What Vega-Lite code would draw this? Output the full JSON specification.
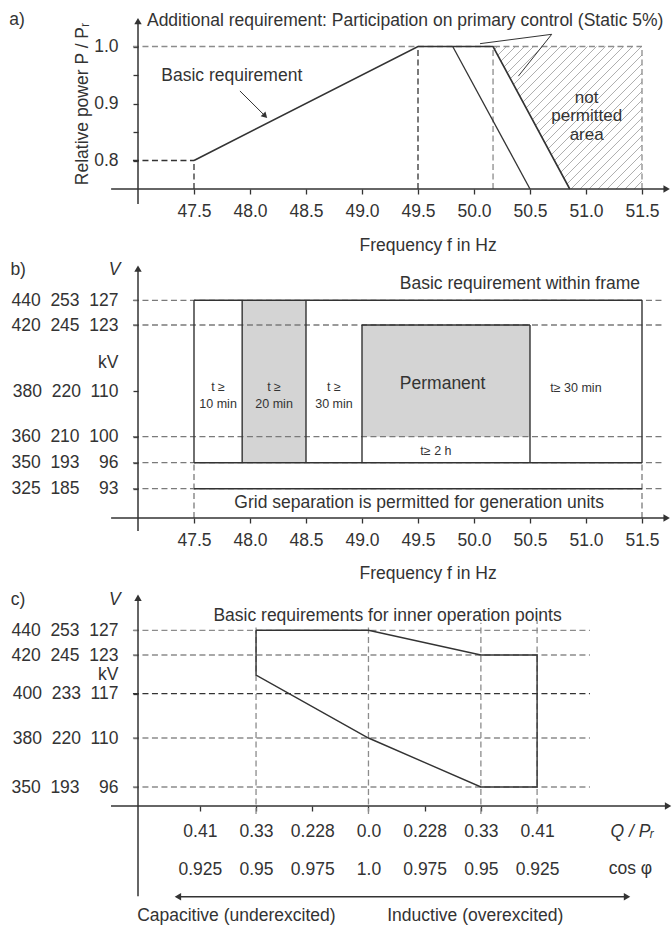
{
  "$schema": "https://vega.github.io/schema/vega-lite/v6.json",
  "background": "white",
  "padding": {"left": 9, "top": 11, "right": 0, "bottom": 0},
  "bounds": "flush",
  "spacing": 74,
  "config": {
    "font": "Liberation Sans",
    "view": {"stroke": null},
    "axis": {"domain": false, "grid": false, "tickColor": "#333333", "tickSize": 5, "tickWidth": 1.3, "labelColor": "#333333", "labelFontSize": 17.5, "labelFont": "Liberation Sans", "labelOverlap": false, "labelBound": false, "labelFlush": false, "titleColor": "#333333", "titleFontWeight": "normal", "titleFontSize": 17.5, "titleFont": "Liberation Sans"},
    "text": {"color": "#333333", "fontSize": 17.5},
    "rule": {"color": "#333333"},
    "line": {"color": "#333333"}
  },
  "vconcat": [
    {
      "width": 532,
      "height": 171,
      "encoding": {
        "x": {"field": "f", "type": "quantitative", "scale": {"domain": [47, 51.75], "nice": false, "zero": false}, "axis": {"values": [47.5, 48, 48.5, 49, 49.5, 50, 50.5, 51, 51.5], "format": ".1f", "labelPadding": 8, "title": null}},
        "y": {"field": "p", "type": "quantitative", "scale": {"domain": [0.75, 1.05], "nice": false, "zero": false}, "axis": {"values": [0.8, 0.85, 0.9, 0.95, 1.0], "labelExpr": "round(datum.value*100) % 10 == 5 ? '' : format(datum.value, '.1f')", "labelPadding": 15, "title": "Relative power P / Pᵣ", "titlePadding": 2}}
      },
      "layer": [
        {
          "data": {"values": [
            {"f": 50.17, "p": 0.9921, "f2": 50.2098, "p2": 1.0},
            {"f": 50.17, "p": 0.9763, "f2": 50.2902, "p2": 1.0},
            {"f": 50.17, "p": 0.9605, "f2": 50.3705, "p2": 1.0},
            {"f": 50.17, "p": 0.9447, "f2": 50.4509, "p2": 1.0},
            {"f": 50.17, "p": 0.9289, "f2": 50.5313, "p2": 1.0},
            {"f": 50.17, "p": 0.9132, "f2": 50.6116, "p2": 1.0},
            {"f": 50.17, "p": 0.8974, "f2": 50.692, "p2": 1.0},
            {"f": 50.17, "p": 0.8816, "f2": 50.7723, "p2": 1.0},
            {"f": 50.17, "p": 0.8658, "f2": 50.8527, "p2": 1.0},
            {"f": 50.17, "p": 0.85, "f2": 50.933, "p2": 1.0},
            {"f": 50.17, "p": 0.8342, "f2": 51.0134, "p2": 1.0},
            {"f": 50.17, "p": 0.8184, "f2": 51.0938, "p2": 1.0},
            {"f": 50.17, "p": 0.8026, "f2": 51.1741, "p2": 1.0},
            {"f": 50.17, "p": 0.7868, "f2": 51.2545, "p2": 1.0},
            {"f": 50.17, "p": 0.7711, "f2": 51.3348, "p2": 1.0},
            {"f": 50.17, "p": 0.7553, "f2": 51.4152, "p2": 1.0},
            {"f": 50.2232, "p": 0.75, "f2": 51.4955, "p2": 1.0},
            {"f": 50.3036, "p": 0.75, "f2": 51.5, "p2": 0.9851},
            {"f": 50.3839, "p": 0.75, "f2": 51.5, "p2": 0.9693},
            {"f": 50.4643, "p": 0.75, "f2": 51.5, "p2": 0.9535},
            {"f": 50.5446, "p": 0.75, "f2": 51.5, "p2": 0.9377},
            {"f": 50.625, "p": 0.75, "f2": 51.5, "p2": 0.9219},
            {"f": 50.7054, "p": 0.75, "f2": 51.5, "p2": 0.9061},
            {"f": 50.7857, "p": 0.75, "f2": 51.5, "p2": 0.8904},
            {"f": 50.8661, "p": 0.75, "f2": 51.5, "p2": 0.8746},
            {"f": 50.9464, "p": 0.75, "f2": 51.5, "p2": 0.8588},
            {"f": 51.0268, "p": 0.75, "f2": 51.5, "p2": 0.843},
            {"f": 51.1071, "p": 0.75, "f2": 51.5, "p2": 0.8272},
            {"f": 51.1875, "p": 0.75, "f2": 51.5, "p2": 0.8114},
            {"f": 51.2679, "p": 0.75, "f2": 51.5, "p2": 0.7956},
            {"f": 51.3482, "p": 0.75, "f2": 51.5, "p2": 0.7798},
            {"f": 51.4286, "p": 0.75, "f2": 51.5, "p2": 0.764}
          ]},
          "mark": {"type": "rule", "color": "#a6a6a6", "strokeWidth": 0.9},
          "encoding": {"x2": {"field": "f2"}, "y2": {"field": "p2"}}
        },
        {
          "data": {"values": [{"f": 50.17, "p": 1.0, "p2": 0.75}, {"f": 50.855, "p": 0.75, "p2": 0.75}]},
          "mark": {"type": "area", "color": "white", "opacity": 1},
          "encoding": {"y2": {"field": "p2"}}
        },
        {
          "data": {"values": [
            {"f": 46.955, "p": 0.8, "f2": 47.5, "p2": 0.8},
            {"f": 47.5, "p": 0.75, "f2": 47.5, "p2": 0.8},
            {"f": 49.5, "p": 0.75, "f2": 49.5, "p2": 1.0}
          ]},
          "mark": {"type": "rule", "color": "#333333", "strokeDash": [6, 3.5], "strokeWidth": 1.3},
          "encoding": {"x2": {"field": "f2"}, "y2": {"field": "p2"}}
        },
        {
          "data": {"values": [
            {"f": 46.955, "p": 1.0, "f2": 51.5, "p2": 1.0},
            {"f": 50.17, "p": 0.75, "f2": 50.17, "p2": 1.0},
            {"f": 51.5, "p": 0.75, "f2": 51.5, "p2": 1.0}
          ]},
          "mark": {"type": "rule", "color": "#8c8c8c", "strokeDash": [6, 3.5], "strokeWidth": 1.3},
          "encoding": {"x2": {"field": "f2"}, "y2": {"field": "p2"}}
        },
        {
          "data": {"values": [
            {"f": 47.5, "p": 0.8, "i": 0},
            {"f": 49.5, "p": 1.0, "i": 1},
            {"f": 50.17, "p": 1.0, "i": 2},
            {"f": 50.855, "p": 0.75, "i": 3}
          ]},
          "mark": {"type": "line", "color": "#333333", "strokeWidth": 1.6},
          "encoding": {"order": {"field": "i", "type": "quantitative"}}
        },
        {
          "data": {"values": [{"f": 49.81, "p": 1.0}, {"f": 50.5, "p": 0.75}]},
          "mark": {"type": "line", "color": "#333333", "strokeWidth": 1.3}
        },
        {
          "data": {"values": [
            {"f": 50.694, "p": 1.0214, "f2": 50.054, "p2": 1.005},
            {"f": 50.694, "p": 1.0214, "f2": 50.396, "p2": 0.948},
            {"f": 47.91, "p": 0.922, "f2": 48.12, "p2": 0.881}
          ]},
          "mark": {"type": "rule", "color": "#333333", "strokeWidth": 1},
          "encoding": {"x2": {"field": "f2"}, "y2": {"field": "p2"}}
        },
        {
          "data": {"values": [{"f": 48.135, "p": 0.878}]},
          "mark": {"type": "point", "shape": "triangle-up", "angle": 135, "size": 45, "filled": true, "color": "#333333", "opacity": 1}
        },
        {
          "data": {"values": [
            {"f": 46.76, "p": 0.75, "f2": 51.7, "p2": 0.75},
            {"f": 47, "p": 0.7237, "f2": 47, "p2": 1.04}
          ]},
          "mark": {"type": "rule", "color": "#333333", "strokeWidth": 1.5},
          "encoding": {"x2": {"field": "f2"}, "y2": {"field": "p2"}}
        },
        {
          "data": {"values": [{"f": 47, "p": 1.0445}]},
          "mark": {"type": "point", "shape": "triangle-up", "angle": 0, "size": 55, "filled": true, "color": "#333333", "opacity": 1}
        },
        {
          "data": {"values": [{"f": 51.72, "p": 0.75}]},
          "mark": {"type": "point", "shape": "triangle-up", "angle": 90, "size": 55, "filled": true, "color": "#333333", "opacity": 1}
        },
        {
          "data": {"values": [
            {"f": 45.92, "p": 1.046, "t": "a)"},
            {"f": 47.837, "p": 0.948, "t": "Basic requirement"},
            {"f": 49.59, "p": 0.65, "t": "Frequency f in Hz"}
          ]},
          "mark": {"type": "text", "align": "center", "baseline": "middle", "fontSize": 17.5},
          "encoding": {"text": {"field": "t"}}
        },
        {
          "data": {"values": [{"f": 47.08, "p": 1.0447, "t": "Additional requirement: Participation on primary control (Static 5%)"}]},
          "mark": {"type": "text", "align": "left", "baseline": "middle", "fontSize": 17.5},
          "encoding": {"text": {"field": "t"}}
        },
        {
          "data": {"values": [{"f": 51.006, "p": 0.91, "t": "not\npermitted\narea"}]},
          "mark": {"type": "text", "align": "center", "baseline": "middle", "fontSize": 17, "lineBreak": "\n", "lineHeight": 18.5},
          "encoding": {"text": {"field": "t"}}
        }
      ]
    },
    {
      "width": 532,
      "height": 255,
      "encoding": {
        "x": {"field": "f", "type": "quantitative", "scale": {"domain": [47, 51.75], "nice": false, "zero": false}, "axis": {"values": [47.5, 48, 48.5, 49, 49.5, 50, 50.5, 51, 51.5], "format": ".1f", "labelPadding": 8, "title": null}},
        "y": {"field": "p", "type": "quantitative", "scale": {"domain": [90, 93, 96, 100, 110, 123, 127, 131], "range": [255, 225.7, 199.7, 173.7, 128, 62, 37.3, 0], "nice": false, "zero": false}, "axis": {"values": [93, 96, 100, 110, 115.6, 123, 127], "labelExpr": "datum.value == 127 ? '440\u00a0\u00a0253\u00a0\u00a0127' : datum.value == 123 ? '420\u00a0\u00a0245\u00a0\u00a0123' : datum.value == 115.6 ? 'kV' : datum.value == 110 ? '380\u00a0\u00a0220\u00a0\u00a0110' : datum.value == 100 ? '360\u00a0\u00a0210\u00a0\u00a0100' : datum.value == 96 ? '350\u00a0\u00a0193\u00a0\u00a0\u00a0\u00a096' : '325\u00a0\u00a0185\u00a0\u00a0\u00a0\u00a093'", "labelPadding": 15, "title": null, "tickOpacity": {"condition": {"test": "datum.value == 115.6", "value": 0}, "value": 1}}}
      },
      "layer": [
        {
          "data": {"values": [
            {"f": 47.93, "f2": 48.5, "p": 96, "p2": 127},
            {"f": 49.0, "f2": 50.5, "p": 100, "p2": 123}
          ]},
          "mark": {"type": "rect", "color": "#d4d4d4", "opacity": 1},
          "encoding": {"x2": {"field": "f2"}, "y2": {"field": "p2"}}
        },
        {
          "data": {"values": [
            {"f": 46.955, "p": 127, "f2": 51.68, "p2": 127},
            {"f": 46.955, "p": 123, "f2": 51.68, "p2": 123},
            {"f": 46.955, "p": 100, "f2": 51.68, "p2": 100},
            {"f": 46.955, "p": 96, "f2": 51.68, "p2": 96},
            {"f": 46.955, "p": 93, "f2": 51.68, "p2": 93},
            {"f": 47.5, "p": 90, "f2": 47.5, "p2": 96},
            {"f": 51.5, "p": 90, "f2": 51.5, "p2": 96}
          ]},
          "mark": {"type": "rule", "color": "#7a7a7a", "strokeDash": [6, 3.5], "strokeWidth": 1.3},
          "encoding": {"x2": {"field": "f2"}, "y2": {"field": "p2"}}
        },
        {
          "data": {"values": [
            {"f": 47.5, "p": 127, "f2": 51.5, "p2": 127},
            {"f": 47.5, "p": 96, "f2": 51.5, "p2": 96},
            {"f": 47.5, "p": 96, "f2": 47.5, "p2": 127},
            {"f": 51.5, "p": 96, "f2": 51.5, "p2": 127},
            {"f": 47.93, "p": 96, "f2": 47.93, "p2": 127},
            {"f": 48.5, "p": 96, "f2": 48.5, "p2": 127},
            {"f": 49.0, "p": 96, "f2": 49.0, "p2": 123},
            {"f": 50.5, "p": 96, "f2": 50.5, "p2": 123},
            {"f": 49.0, "p": 123, "f2": 50.5, "p2": 123},
            {"f": 47.5, "p": 93, "f2": 51.5, "p2": 93}
          ]},
          "mark": {"type": "rule", "color": "#333333", "strokeWidth": 1.4},
          "encoding": {"x2": {"field": "f2"}, "y2": {"field": "p2"}}
        },
        {
          "data": {"values": [
            {"f": 46.76, "p": 90, "f2": 51.7, "p2": 90},
            {"f": 47, "p": 88.67, "f2": 47, "p2": 130.3}
          ]},
          "mark": {"type": "rule", "color": "#333333", "strokeWidth": 1.5},
          "encoding": {"x2": {"field": "f2"}, "y2": {"field": "p2"}}
        },
        {
          "data": {"values": [{"f": 47, "p": 130.4}]},
          "mark": {"type": "point", "shape": "triangle-up", "angle": 0, "size": 55, "filled": true, "color": "#333333", "opacity": 1}
        },
        {
          "data": {"values": [{"f": 51.72, "p": 90}]},
          "mark": {"type": "point", "shape": "triangle-up", "angle": 90, "size": 55, "filled": true, "color": "#333333", "opacity": 1}
        },
        {
          "data": {"values": [
            {"f": 47.715, "p": 110.7, "t": "t ≥\n10 min"},
            {"f": 48.215, "p": 110.7, "t": "t ≥\n20 min"},
            {"f": 48.75, "p": 110.7, "t": "t ≥\n30 min"},
            {"f": 49.66, "p": 97.8, "t": "t≥ 2 h"},
            {"f": 50.91, "p": 110.6, "t": "t≥ 30 min"}
          ]},
          "mark": {"type": "text", "align": "center", "baseline": "middle", "fontSize": 12.5, "lineBreak": "\n", "lineHeight": 17},
          "encoding": {"text": {"field": "t"}}
        },
        {
          "data": {"values": [
            {"f": 45.93, "p": 130.2, "t": "b)"},
            {"f": 49.72, "p": 111.3, "t": "Permanent"},
            {"f": 49.51, "p": 91.5, "t": "Grid separation is permitted for generation units"},
            {"f": 50.41, "p": 128.8, "t": "Basic requirement within frame"},
            {"f": 49.59, "p": 84.3, "t": "Frequency f in Hz"}
          ]},
          "mark": {"type": "text", "align": "center", "baseline": "middle", "fontSize": 17.5},
          "encoding": {"text": {"field": "t"}}
        },
        {
          "data": {"values": [{"f": 46.79, "p": 130.2, "t": "V"}]},
          "mark": {"type": "text", "align": "center", "baseline": "middle", "fontSize": 17.5, "fontStyle": "italic"},
          "encoding": {"text": {"field": "t"}}
        }
      ]
    },
    {
      "width": 534,
      "height": 214,
      "encoding": {
        "x": {"field": "q", "type": "quantitative", "scale": {"domain": [-4.1, 5.4], "nice": false, "zero": false}, "axis": {"values": [-3, -2, -1, 0, 1, 2, 3], "labelExpr": "[['0.41','0.925'],['0.33','0.95'],['0.228','0.975'],['0.0','1.0'],['0.228','0.975'],['0.33','0.95'],['0.41','0.925']][datum.value+3]", "labelLineHeight": 38, "labelPadding": 11, "title": null}},
        "y": {"field": "v", "type": "quantitative", "scale": {"domain": [90, 96, 110, 117, 123, 127, 131], "range": [214, 195, 146, 101.7, 63, 38.3, 0], "nice": false, "zero": false}, "axis": {"values": [96, 110, 117, 119.9, 123, 127], "labelExpr": "datum.value == 127 ? '440\u00a0\u00a0253\u00a0\u00a0127' : datum.value == 123 ? '420\u00a0\u00a0245\u00a0\u00a0123' : datum.value == 119.9 ? 'kV' : datum.value == 117 ? '400\u00a0\u00a0233\u00a0\u00a0117' : datum.value == 110 ? '380\u00a0\u00a0220\u00a0\u00a0110' : '350\u00a0\u00a0193\u00a0\u00a0\u00a0\u00a096'", "labelPadding": 15, "title": null, "tickOpacity": {"condition": {"test": "datum.value == 119.9", "value": 0}, "value": 1}}}
      },
      "layer": [
        {
          "data": {"values": [
            {"q": -4.19, "v": 127, "q2": 3.94, "v2": 127},
            {"q": -4.19, "v": 123, "q2": 3.94, "v2": 123},
            {"q": -4.19, "v": 110, "q2": 3.94, "v2": 110},
            {"q": -4.19, "v": 96, "q2": 3.94, "v2": 96},
            {"q": -2, "v": 87.5, "q2": -2, "v2": 127.6},
            {"q": 0, "v": 87.5, "q2": 0, "v2": 127.6},
            {"q": 2, "v": 87.5, "q2": 2, "v2": 127.8},
            {"q": 3, "v": 87.5, "q2": 3, "v2": 128}
          ]},
          "mark": {"type": "rule", "color": "#8c8c8c", "strokeDash": [6, 3.5], "strokeWidth": 1.3},
          "encoding": {"x2": {"field": "q2"}, "y2": {"field": "v2"}}
        },
        {
          "data": {"values": [{"q": -4.19, "v": 117, "q2": 3.94, "v2": 117}]},
          "mark": {"type": "rule", "color": "#333333", "strokeDash": [6, 3.5], "strokeWidth": 1.3},
          "encoding": {"x2": {"field": "q2"}, "y2": {"field": "v2"}}
        },
        {
          "data": {"values": [
            {"q": -2, "v": 127, "i": 0},
            {"q": 0, "v": 127, "i": 1},
            {"q": 2, "v": 123, "i": 2},
            {"q": 3, "v": 123, "i": 3},
            {"q": 3, "v": 96, "i": 4},
            {"q": 2, "v": 96, "i": 5},
            {"q": 0, "v": 110, "i": 6},
            {"q": -2, "v": 119.9, "i": 7},
            {"q": -2, "v": 127, "i": 8}
          ]},
          "mark": {"type": "line", "color": "#333333", "strokeWidth": 1.4},
          "encoding": {"order": {"field": "i", "type": "quantitative"}}
        },
        {
          "data": {"values": [
            {"q": -4.58, "v": 90, "q2": 5.3, "v2": 90},
            {"q": -4.1, "v": 61.5, "q2": -4.1, "v2": 130.3},
            {"q": -3.35, "v": 61.36, "q2": 4.56, "v2": 61.36}
          ]},
          "mark": {"type": "rule", "color": "#333333", "strokeWidth": 1.5},
          "encoding": {"x2": {"field": "q2"}, "y2": {"field": "v2"}}
        },
        {
          "data": {"values": [{"q": -4.1, "v": 130.4}]},
          "mark": {"type": "point", "shape": "triangle-up", "angle": 0, "size": 55, "filled": true, "color": "#333333", "opacity": 1}
        },
        {
          "data": {"values": [{"q": 5.33, "v": 90}, {"q": 4.6, "v": 61.36}]},
          "mark": {"type": "point", "shape": "triangle-up", "angle": 90, "size": 55, "filled": true, "color": "#333333", "opacity": 1}
        },
        {
          "data": {"values": [{"q": -3.39, "v": 61.36}]},
          "mark": {"type": "point", "shape": "triangle-up", "angle": 270, "size": 55, "filled": true, "color": "#333333", "opacity": 1}
        },
        {
          "data": {"values": [
            {"q": -6.235, "v": 130.2, "t": "c)"},
            {"q": 0.339, "v": 128.5, "t": "Basic requirements for inner operation points"},
            {"q": 4.66, "v": 70.1, "t": "cos φ"},
            {"q": -2.35, "v": 55.26, "t": "Capacitive (underexcited)"},
            {"q": 1.9, "v": 55.26, "t": "Inductive (overexcited)"}
          ]},
          "mark": {"type": "text", "align": "center", "baseline": "middle", "fontSize": 17.5},
          "encoding": {"text": {"field": "t"}}
        },
        {
          "data": {"values": [
            {"q": -4.51, "v": 130.2, "t": "V"},
            {"q": 4.69, "v": 81.8, "t": "Q / Pᵣ"}
          ]},
          "mark": {"type": "text", "align": "center", "baseline": "middle", "fontSize": 17.5, "fontStyle": "italic"},
          "encoding": {"text": {"field": "t"}}
        }
      ]
    }
  ]
}
